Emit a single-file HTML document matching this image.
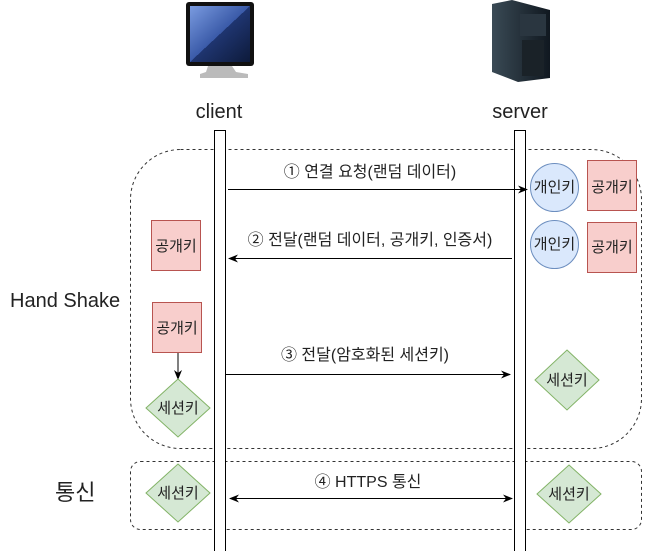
<!DOCTYPE html>
<html><head><meta charset="utf-8"><style>
body{margin:0;background:#fff}
svg{display:block}
text{font-family:"Liberation Sans","Noto Sans CJK KR",sans-serif;fill:#222}
</style></head><body>
<svg width="651" height="551" viewBox="0 0 651 551" xmlns="http://www.w3.org/2000/svg">
<defs>
<marker id="a" markerWidth="10" markerHeight="10" refX="9" refY="5" orient="auto" markerUnits="userSpaceOnUse"><path d="M0,1 L10,5 L0,9 L3,5 Z" fill="#000"/></marker>
<marker id="b" markerWidth="10" markerHeight="10" refX="1" refY="5" orient="auto" markerUnits="userSpaceOnUse"><path d="M10,1 L0,5 L10,9 L7,5 Z" fill="#000"/></marker>
<linearGradient id="scr" x1="0" y1="0" x2="1" y2="1"><stop offset="0" stop-color="#7a9be0"/><stop offset="0.5" stop-color="#3a5aa8"/><stop offset="0.5" stop-color="#1f3570"/><stop offset="1" stop-color="#0d1a3a"/></linearGradient>
<linearGradient id="srv" x1="0" y1="0" x2="1" y2="0"><stop offset="0" stop-color="#3a4a55"/><stop offset="1" stop-color="#101820"/></linearGradient>
</defs>
<rect x="186" y="2" width="68" height="64" rx="3" fill="#111"/>
<rect x="190" y="6" width="60" height="56" fill="url(#scr)"/>
<path d="M208,66 L232,66 L236,72 L248,74 L248,78 L200,78 L200,74 L206,72 Z" fill="#bbb"/>
<path d="M492,4 L512,0 L550,10 L550,78 L518,82 L492,72 Z" fill="url(#srv)"/>
<rect x="520" y="14" width="26" height="22" fill="#2a3640"/>
<rect x="522" y="40" width="22" height="36" fill="#1a2228"/>
<text x="219" y="118" font-size="20" text-anchor="middle">client</text>
<text x="520" y="118" font-size="20" text-anchor="middle">server</text>
<rect x="130.5" y="149.5" width="511" height="299" rx="50" fill="none" stroke="#333" stroke-dasharray="3,3"/>
<rect x="130.5" y="461.5" width="511" height="68" rx="10" fill="none" stroke="#333" stroke-dasharray="3,3"/>
<rect x="214.5" y="130.5" width="11" height="422" fill="#fff" stroke="#000"/>
<rect x="514.5" y="130.5" width="11" height="422" fill="#fff" stroke="#000"/>
<text x="10" y="307" font-size="20">Hand Shake</text>
<text x="55" y="500" font-size="22">통신</text>
<line x1="228" y1="189.5" x2="527" y2="189.5" stroke="#000" marker-end="url(#a)"/>
<text x="370" y="177" font-size="16" text-anchor="middle">① 연결 요청(랜덤 데이터)</text>
<line x1="512" y1="258.5" x2="229" y2="258.5" stroke="#000" marker-end="url(#a)"/>
<text x="370" y="245" font-size="16" text-anchor="middle">② 전달(랜덤 데이터, 공개키, 인증서)</text>
<line x1="225" y1="374.5" x2="510" y2="374.5" stroke="#000" marker-end="url(#a)"/>
<text x="365" y="360" font-size="16" text-anchor="middle">③ 전달(암호화된 세션키)</text>
<line x1="230" y1="498.5" x2="512" y2="498.5" stroke="#000" marker-end="url(#a)" marker-start="url(#b)"/>
<text x="368" y="487" font-size="16" text-anchor="middle">④ HTTPS 통신</text>
<circle cx="554.5" cy="187.5" r="24" fill="#dae8fc" stroke="#6c8ebf"/>
<text x="554.5" y="192" font-size="15" text-anchor="middle">개인키</text>
<rect x="587.5" y="160.5" width="49" height="50" fill="#f8cecc" stroke="#b85450"/>
<text x="612" y="192" font-size="15" text-anchor="middle">공개키</text>
<circle cx="554.5" cy="244.5" r="24" fill="#dae8fc" stroke="#6c8ebf"/>
<text x="554.5" y="249" font-size="15" text-anchor="middle">개인키</text>
<rect x="587.5" y="222.5" width="49" height="50" fill="#f8cecc" stroke="#b85450"/>
<text x="612" y="252" font-size="15" text-anchor="middle">공개키</text>
<rect x="151.5" y="220.5" width="49" height="50" fill="#f8cecc" stroke="#b85450"/>
<text x="176" y="251" font-size="15" text-anchor="middle">공개키</text>
<rect x="152.5" y="302.5" width="49" height="50" fill="#f8cecc" stroke="#b85450"/>
<text x="177" y="333" font-size="15" text-anchor="middle">공개키</text>
<line x1="178" y1="353" x2="178" y2="379" stroke="#000" marker-end="url(#a)"/>
<polygon points="178,379 210,408 178,437 146,408" fill="#d5e8d4" stroke="#82b366"/>
<text x="178" y="413" font-size="15" text-anchor="middle">세션키</text>
<polygon points="567,350 599,380 567,410 535,380" fill="#d5e8d4" stroke="#82b366"/>
<text x="567" y="385" font-size="15" text-anchor="middle">세션키</text>
<polygon points="178,464 210,493 178,522 146,493" fill="#d5e8d4" stroke="#82b366"/>
<text x="178" y="498" font-size="15" text-anchor="middle">세션키</text>
<polygon points="569,465 601,494 569,523 537,494" fill="#d5e8d4" stroke="#82b366"/>
<text x="569" y="499" font-size="15" text-anchor="middle">세션키</text>
</svg>
</body></html>
